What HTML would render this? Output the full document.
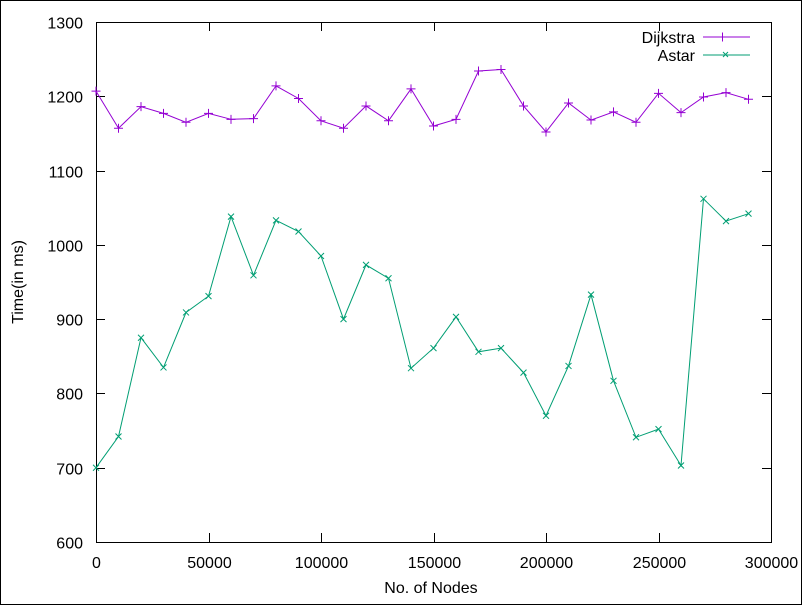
<!DOCTYPE html>
<html><head><meta charset="utf-8"><style>
html,body{margin:0;padding:0;background:#fff}
svg{display:block;font-family:"Liberation Sans",sans-serif;font-size:16px}
</style></head><body>
<svg id="chart" width="802" height="605" xmlns="http://www.w3.org/2000/svg">
<rect x="0.5" y="0.5" width="801" height="604" fill="#fff" stroke="#000"/>
<g id="axes"></g>
<g id="series"></g>
<text x="431" y="593" text-anchor="middle">No. of Nodes</text>
<text transform="translate(23,282) rotate(-90)" text-anchor="middle">Time(in ms)</text>
<g>
<g>
<text x="695" y="43" text-anchor="end">Dijkstra</text>
<line x1="703" y1="37" x2="750" y2="37" stroke="#9400d3"/>
<path d="M722.5 32.5v9M718 37h9" stroke="#9400d3"/>
</g>
<g>
<text x="695" y="61" text-anchor="end">Astar</text>
<line x1="703" y1="55" x2="750" y2="55" stroke="#009e73"/>
<path d="M723 52l5 5M728 52l-5 5" stroke="#009e73"/>
</g>
</g>
</svg>
<script>
const xValues=[0,10000,20000,30000,40000,50000,60000,70000,80000,90000,100000,110000,120000,130000,140000,150000,160000,170000,180000,190000,200000,210000,220000,230000,240000,250000,260000,270000,280000,290000];
const dijkstra=[1207,1157,1186,1177,1165,1177,1169,1170,1214,1197,1167,1157,1187,1167,1210,1160,1169,1234,1236,1187,1152,1191,1168,1179,1165,1204,1178,1199,1205,1196];
const astar=[700,742,875,835,909,931,1038,959,1033,1018,985,900,973,955,834,861,903,856,861,828,770,837,933,817,741,752,703,1062,1032,1042];
const xTicks=[0,50000,100000,150000,200000,250000,300000];
const yTicks=[600,700,800,900,1000,1100,1200,1300];
const L=96,R=771,T=22,B=542;
const xs=v=>L+(v-0)/300000*(R-L);
const ys=v=>B-(v-600)/700*(B-T);
const NS="http://www.w3.org/2000/svg";
function mk(tag,attrs,parent){const e=document.createElementNS(NS,tag);for(const k in attrs)e.setAttribute(k,attrs[k]);parent.appendChild(e);return e;}
const ax=document.getElementById('axes');
const box=mk('rect',{x:L+0.5,y:T+0.5,width:R-L,height:B-T,fill:'none',stroke:'#000'},ax);


xTicks.forEach(v=>{const x=Math.round(xs(v))+0.5;
 const p=mk('path',{d:`M${x} ${B}v-9M${x} ${T}v9`,stroke:'#000'},ax);
 
 
 const t=mk('text',{x:x,y:568,'text-anchor':'middle'},ax);t.textContent=v;
 
 
});
yTicks.forEach(v=>{const y=Math.round(ys(v))+0.5;
 const p=mk('path',{d:`M${L} ${y}h9M${R} ${y}h-9`,stroke:'#000'},ax);
 
 
 const t=mk('text',{x:83,y:y+6,'text-anchor':'end'},ax);t.textContent=v;
 
 
});
const sg=document.getElementById('series');
function draw(vals,color,name,marker){
 const g=mk('g',{},sg);
 
 
 const pts=vals.map((v,i)=>xs(xValues[i]).toFixed(1)+','+ys(v).toFixed(1)).join(' ');
 const l=mk('polyline',{points:pts,fill:'none',stroke:color},g);
 
 
 vals.forEach((v,i)=>{const x=xs(xValues[i]),y=ys(v);
  const d=marker==='plus'?`M${x-4.5} ${y}h9M${x} ${y-4.5}v9`:`M${x-3} ${y-3}l6 6M${x+3} ${y-3}l-6 6`;
  const m=mk('path',{d:d,stroke:color},g);
  
  
 });
}
draw(dijkstra,'#9400d3','dijkstra','plus');
draw(astar,'#009e73','astar','x');
</script>
</body></html>
